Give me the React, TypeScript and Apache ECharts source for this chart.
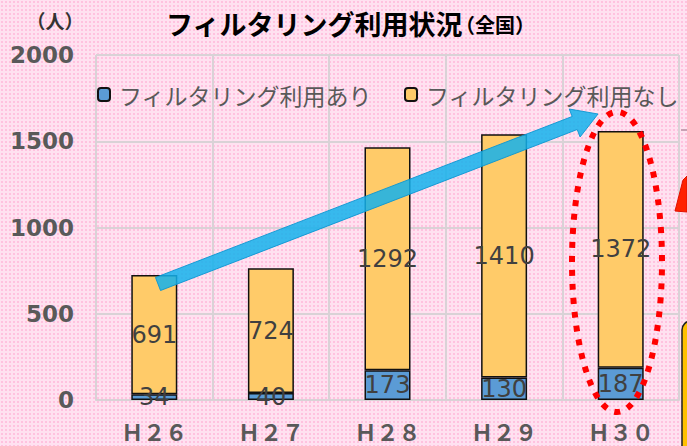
import React, { useEffect, useRef } from "react";
import * as echarts from "echarts";

const categories = ["Ｈ２６", "Ｈ２７", "Ｈ２８", "Ｈ２９", "Ｈ３０"];
const usedValues = [34, 40, 173, 130, 187];
const notUsedValues = [691, 724, 1292, 1410, 1372];
const seriesNames = ["フィルタリング利用あり", "フィルタリング利用なし"];
const yTicks = { min: 0, max: 2000, interval: 500 };

function arrowPoints(sx: number, sy: number, tx: number, ty: number, bw: number, hw: number, hl: number) {
  const dx = tx - sx, dy = ty - sy;
  const len = Math.sqrt(dx * dx + dy * dy);
  const ux = dx / len, uy = dy / len;
  const nx = -uy, ny = ux;
  const bx = tx - ux * hl, by = ty - uy * hl;
  return [
    [sx + nx * bw, sy + ny * bw],
    [bx + nx * bw, by + ny * bw],
    [bx + nx * hw, by + ny * hw],
    [tx, ty],
    [bx - nx * hw, by - ny * hw],
    [bx - nx * bw, by - ny * bw],
    [sx - nx * bw, sy - ny * bw],
  ];
}

export default function App() {
  const ref = useRef<HTMLDivElement>(null);
  useEffect(() => {
    document.body.style.margin = "0";
    const chart = echarts.init(ref.current!, null, { renderer: "svg" });
    const labelStyle = {
      show: true,
      position: "inside",
      color: "#404040",
      fontSize: 24,
      fontFamily: "DejaVu Sans",
    };
    chart.setOption({
      animation: false,
      backgroundColor: "transparent",
      textStyle: { fontFamily: "Noto Sans CJK JP" },
      grid: { left: 96, right: 8, top: 55, bottom: 46 },
      legend: {
        left: 92,
        top: 78,
        itemWidth: 12,
        itemHeight: 13,
        itemGap: 32,
        textStyle: { color: "#595959", fontSize: 23, fontFamily: "Noto Sans CJK JP", padding: [0, 0, 0, 4] },
        data: seriesNames,
      },
      xAxis: {
        type: "category",
        data: categories,
        axisLine: { lineStyle: { color: "#d9d2d6", width: 2 } },
        axisTick: { show: false },
        splitLine: { show: true, lineStyle: { color: "#d9d2d6", width: 2 } },
        axisLabel: { color: "#595959", fontSize: 22, fontWeight: "bold", margin: 20, fontFamily: "Noto Sans CJK JP" },
      },
      yAxis: {
        type: "value",
        min: yTicks.min,
        max: yTicks.max,
        interval: yTicks.interval,
        axisLine: { show: false },
        axisTick: { show: false },
        splitLine: { lineStyle: { color: "#d9d2d6", width: 2 } },
        axisLabel: {
          color: "#595959",
          fontSize: 23,
          fontWeight: "bold",
          margin: 22,
          fontFamily: "DejaVu Sans",
          formatter: (v: number) => String(v),
        },
      },
      series: [
        {
          name: seriesNames[0],
          type: "bar",
          stack: "total",
          data: usedValues,
          barWidth: 46,
          itemStyle: { color: "#5B9BD5", borderColor: "#111", borderWidth: 1.5 },
          label: labelStyle,
        },
        {
          name: seriesNames[1],
          type: "bar",
          stack: "total",
          data: notUsedValues,
          barWidth: 46,
          itemStyle: { color: "#FFCB69", borderColor: "#111", borderWidth: 1.5 },
          label: labelStyle,
        },
      ],
      graphic: [
        {
          type: "text",
          left: 166,
          top: 10,
          style: {
            text: "{a|フィルタリング利用状況}{b|（全国）}",
            rich: {
              a: { fontSize: 27, fontWeight: "bold", fill: "#000", fontFamily: "Noto Sans CJK JP" },
              b: { fontSize: 20, fontWeight: "bold", fill: "#000", fontFamily: "Noto Sans CJK JP", padding: [3, 0, 0, -8] },
            },
          },
        },
        {
          type: "text",
          x: 55,
          y: 20,
          style: { text: "（人）", fontSize: 19, fill: "#333", fontWeight: "bold", align: "center", verticalAlign: "middle", fontFamily: "Noto Sans CJK JP" },
        },
        {
          type: "polygon",
          z: 100,
          shape: { points: arrowPoints(158, 284, 598, 114, 7, 15, 25) },
          style: { fill: "rgba(20,178,236,0.85)", stroke: "rgba(10,150,210,0.9)", lineWidth: 1 },
        },
        {
          type: "ellipse",
          z: 100,
          shape: { cx: 617, cy: 262, rx: 45, ry: 150 },
          style: { fill: "none", stroke: "#FF0000", lineWidth: 6, lineDash: [6, 8] },
        },
        {
          type: "polygon",
          z: 100,
          shape: { points: [[683, 180], [687, 176], [687, 212], [675, 211]] },
          style: { fill: "#FF2200", stroke: "#E01000", lineWidth: 1 },
        },
        {
          type: "rect",
          z: 100,
          shape: { x: 682, y: 321, width: 24, height: 140, r: 9 },
          style: { fill: "#FFC000", stroke: "#222", lineWidth: 1.5 },
        },
        {
          type: "line",
          z: 100,
          shape: { x1: 681, y1: 130, x2: 687, y2: 130 },
          style: { stroke: "#c9a0b4", lineWidth: 2 },
        },
      ],
    });
    return () => chart.dispose();
  }, []);
  return (
    <div
      ref={ref}
      style={{
        width: 687,
        height: 446,
        backgroundColor: "#FFE1F0",
        backgroundImage: "radial-gradient(#FFC2DF 1px, transparent 1.3px)",
        backgroundSize: "4px 4px",
      }}
    />
  );
}
